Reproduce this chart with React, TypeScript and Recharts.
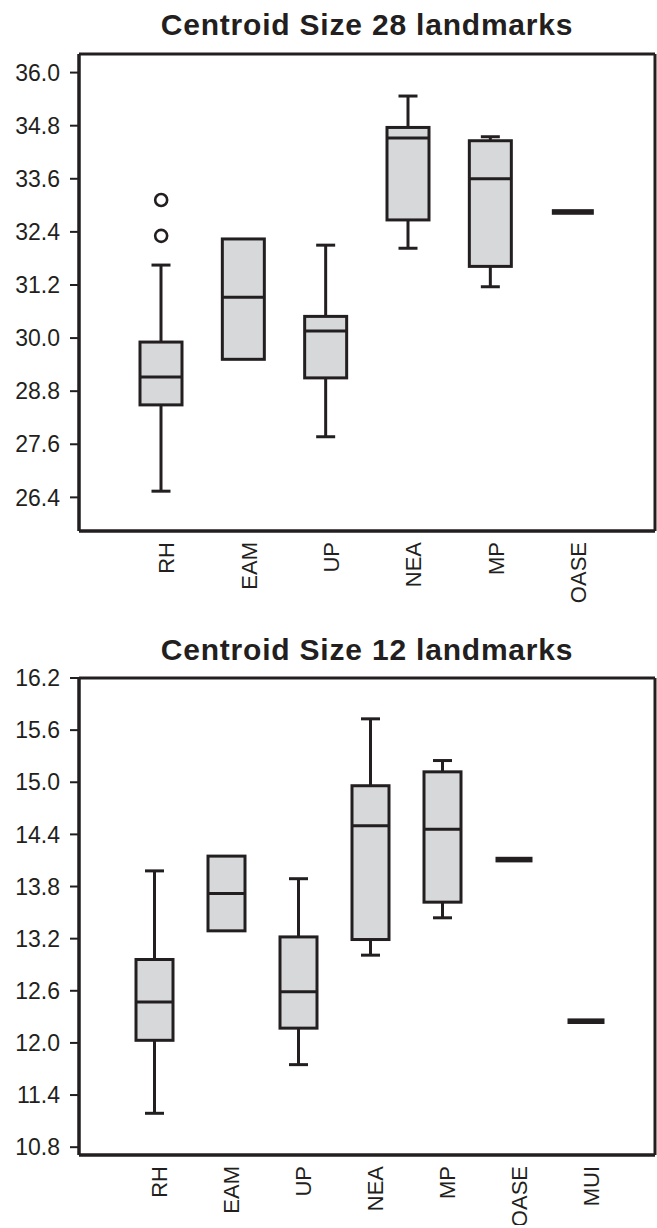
import { Bar, CartesianGrid, ComposedChart, Scatter, XAxis, YAxis } from "recharts";

const INK = "#231f20";
const BOX_FILL = "#d7d8da";
const FONT = '"Liberation Sans", Arial, Helvetica, sans-serif';

// Centroid Size 28 landmarks
const categories28 = ["RH", "EAM", "UP", "NEA", "MP", "OASE"];
const whiskerLow28 = [26.54, 29.52, 27.77, 32.03, 31.16, null];
const q1_28 = [28.49, 29.52, 29.1, 32.67, 31.62, null];
const median28 = [29.12, 30.92, 30.16, 34.52, 33.6, 32.85];
const q3_28 = [29.91, 32.24, 30.49, 34.76, 34.46, null];
const whiskerHigh28 = [31.65, 32.24, 32.1, 35.47, 34.55, null];
const outliers28 = [[33.12, 32.31], [], [], [], [], []];
const ticks28 = [26.4, 27.6, 28.8, 30.0, 31.2, 32.4, 33.6, 34.8, 36.0];

// Centroid Size 12 landmarks
const categories12 = ["RH", "EAM", "UP", "NEA", "MP", "OASE", "MUI"];
const whiskerLow12 = [11.19, 13.29, 11.75, 13.01, 13.44, null, null];
const q1_12 = [12.03, 13.29, 12.17, 13.19, 13.62, null, null];
const median12 = [12.47, 13.72, 12.59, 14.5, 14.46, 14.11, 12.25];
const q3_12 = [12.96, 14.15, 13.22, 14.96, 15.12, null, null];
const whiskerHigh12 = [13.98, 14.15, 13.89, 15.73, 15.25, null, null];
const outliers12 = [[], [], [], [], [], [], []];
const ticks12 = [10.8, 11.4, 12.0, 12.6, 13.2, 13.8, 14.4, 15.0, 15.6, 16.2];

type Row = {
	cat: string;
	lo: number | null;
	q1: number | null;
	med: number;
	q3: number | null;
	hi: number | null;
	range: number[] | null;
	single: number | null;
	out1: number | null;
	out2: number | null;
};

function buildRows(
	cats: string[],
	lo: (number | null)[],
	q1: (number | null)[],
	med: number[],
	q3: (number | null)[],
	hi: (number | null)[],
	outs: number[][],
): Row[] {
	return cats.map((cat, i) => ({
		cat,
		lo: lo[i],
		q1: q1[i],
		med: med[i],
		q3: q3[i],
		hi: hi[i],
		range: lo[i] != null ? [lo[i] as number, hi[i] as number] : null,
		single: lo[i] == null ? med[i] : null,
		out1: outs[i][0] ?? null,
		out2: outs[i][1] ?? null,
	}));
}

const rows28 = buildRows(categories28, whiskerLow28, q1_28, median28, q3_28, whiskerHigh28, outliers28);
const rows12 = buildRows(categories12, whiskerLow12, q1_12, median12, q3_12, whiskerHigh12, outliers12);

function BoxShape(props: any) {
	const { x, y, width, height, payload, capWidth } = props;
	if (!payload || payload.lo == null) return <g />;
	const top = Math.min(y, y + height);
	const h = Math.abs(height);
	const span = payload.hi - payload.lo;
	const py = (v: number) => top + ((payload.hi - v) / span) * h;
	const cx = x + width / 2;
	const yQ1 = py(payload.q1);
	const yQ3 = py(payload.q3);
	const yMed = py(payload.med);
	const yLo = py(payload.lo);
	const yHi = py(payload.hi);
	return (
		<g>
			{yHi < yQ3 - 0.5 && (
				<>
					<line x1={cx} x2={cx} y1={yHi} y2={yQ3} stroke={INK} strokeWidth={3} />
					<line x1={cx - capWidth / 2} x2={cx + capWidth / 2} y1={yHi} y2={yHi} stroke={INK} strokeWidth={3} />
				</>
			)}
			{yLo > yQ1 + 0.5 && (
				<>
					<line x1={cx} x2={cx} y1={yQ1} y2={yLo} stroke={INK} strokeWidth={3} />
					<line x1={cx - capWidth / 2} x2={cx + capWidth / 2} y1={yLo} y2={yLo} stroke={INK} strokeWidth={3} />
				</>
			)}
			<rect x={x} y={yQ3} width={width} height={yQ1 - yQ3} fill={BOX_FILL} stroke={INK} strokeWidth={3} />
			<line x1={x} x2={x + width} y1={yMed} y2={yMed} stroke={INK} strokeWidth={3} />
		</g>
	);
}

function SingleShape(props: any) {
	const { cx, cy, payload, lineWidth } = props;
	if (!payload || payload.single == null || cy == null) return <g />;
	return <rect x={cx - lineWidth / 2} y={cy - 2.8} width={lineWidth} height={5.6} fill={INK} />;
}

function OutlierShape(props: any) {
	const { cx, cy, payload, field } = props;
	if (!payload || payload[field] == null || cy == null || Number.isNaN(cy)) return <g />;
	return <circle cx={cx} cy={cy} r={6} fill="#ffffff" stroke={INK} strokeWidth={2.6} />;
}

function CategoryTick(props: any) {
	const { x, y, payload } = props;
	return (
		<text
			x={x}
			y={y}
			transform={`rotate(-90 ${x} ${y})`}
			textAnchor="end"
			dy={13}
			fill={INK}
			fontSize={22}
			fontFamily={FONT}
		>
			{payload.value}
		</text>
	);
}

// frame lines on the plot-area edges
const frameRows = ({ offset }: any) => [offset.top, offset.top + offset.height];
const frameCols = ({ offset }: any) => [offset.left, offset.left + offset.width];

interface BoxChartProps {
	rows: Row[];
	ticks: number[];
	domain: [number, number];
	height: number;
	marginTop: number;
	axisHeight: number;
	padding: { left: number; right: number };
	boxWidth: number;
}

function BoxChart({ rows, ticks, domain, height, marginTop, axisHeight, padding, boxWidth }: BoxChartProps) {
	const frame = { stroke: INK, strokeWidth: 3 };
	return (
		<ComposedChart
			width={657}
			height={height}
			data={rows}
			margin={{ top: marginTop, right: 2, bottom: 0, left: 0 }}
		>
			<CartesianGrid
				stroke={INK}
				strokeWidth={3}
				horizontalCoordinatesGenerator={frameRows}
				verticalCoordinatesGenerator={frameCols}
			/>
			<XAxis
				dataKey="cat"
				type="category"
				padding={padding}
				interval={0}
				tickLine={false}
				tickSize={0}
				tickMargin={11}
				axisLine={frame}
				height={axisHeight}
				tick={<CategoryTick />}
			/>
			<YAxis
				type="number"
				domain={domain}
				ticks={ticks}
				allowDataOverflow
				width={79}
				tickSize={9}
				tickMargin={10}
				tickLine={{ stroke: INK, strokeWidth: 2 }}
				axisLine={frame}
				tickFormatter={(v: number) => v.toFixed(1)}
				tick={{ fill: INK, fontSize: 23, fontFamily: FONT }}
			/>
			<Bar
				dataKey="range"
				barSize={boxWidth}
				isAnimationActive={false}
				shape={(p: any) => <BoxShape {...p} capWidth={19} />}
			/>
			<Scatter
				dataKey="single"
				isAnimationActive={false}
				shape={(p: any) => <SingleShape {...p} lineWidth={boxWidth} />}
			/>
			<Scatter dataKey="out1" isAnimationActive={false} shape={(p: any) => <OutlierShape {...p} field="out1" />} />
			<Scatter dataKey="out2" isAnimationActive={false} shape={(p: any) => <OutlierShape {...p} field="out2" />} />
		</ComposedChart>
	);
}

const titleStyle: React.CSSProperties = {
	position: "absolute",
	left: 79,
	width: 576,
	textAlign: "center",
	fontFamily: FONT,
	fontWeight: "bold",
	fontSize: 30,
	letterSpacing: 0.8,
	lineHeight: "30px",
	color: INK,
	whiteSpace: "nowrap",
};

export default function App() {
	return (
		<div style={{ position: "absolute", left: 0, top: 0, width: 657, height: 1228, background: "#ffffff" }}>
			<div style={{ ...titleStyle, top: 10 }}>Centroid Size 28 landmarks</div>
			<div style={{ position: "absolute", left: 0, top: 0 }}>
				<BoxChart
					rows={rows28}
					ticks={ticks28}
					domain={[25.64, 36.42]}
					height={611}
					marginTop={54}
					axisHeight={80}
					padding={{ left: 41, right: 41 }}
					boxWidth={42}
				/>
			</div>
			<div style={{ ...titleStyle, top: 635 }}>Centroid Size 12 landmarks</div>
			<div style={{ position: "absolute", left: 0, top: 620 }}>
				<BoxChart
					rows={rows12}
					ticks={ticks12}
					domain={[10.71, 16.2]}
					height={605}
					marginTop={58}
					axisHeight={70}
					padding={{ left: 39, right: 33 }}
					boxWidth={37}
				/>
			</div>
		</div>
	);
}
